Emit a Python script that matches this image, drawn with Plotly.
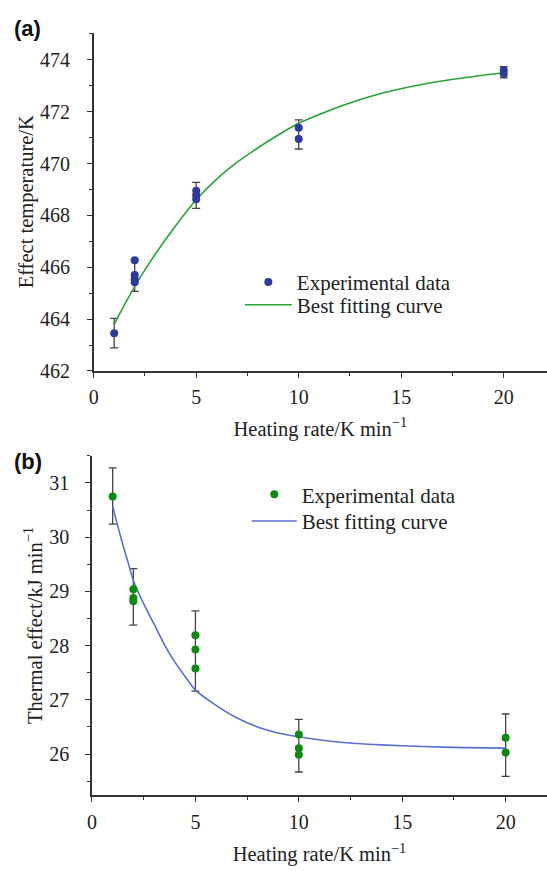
import plotly.graph_objects as go

# ---- panel (a): effect temperature vs heating rate ----
a_pts_x = [1, 2, 2, 2, 2, 5, 5, 5, 10, 10, 20, 20]
a_pts_y = [463.45, 466.27, 465.70, 465.55, 465.42, 468.95, 468.78, 468.62,
           471.38, 470.95, 473.60, 473.45]
a_err_x = [1, 2, 5, 10, 20]
a_err_mean = [463.46, 465.68, 468.77, 471.12, 473.52]
a_err_sd = [0.57, 0.61, 0.50, 0.56, 0.22]
a_fit_x = [1, 1.5, 2, 2.5, 3, 4, 5, 6, 7, 8, 9, 10, 12, 14, 16, 18, 20]
a_fit_y = [463.8, 464.55, 465.25, 465.9, 466.5, 467.6, 468.6, 469.4, 470.05,
           470.6, 471.1, 471.55, 472.2, 472.7, 473.05, 473.3, 473.5]

# ---- panel (b): thermal effect vs heating rate ----
b_pts_x = [1, 2, 2, 2, 5, 5, 5, 10, 10, 10, 20, 20]
b_pts_y = [30.75, 29.04, 28.88, 28.82, 28.19, 27.93, 27.58,
           26.36, 26.11, 25.99, 26.30, 26.03]
b_err_x = [1, 2, 5, 10, 20]
b_err_mean = [30.76, 28.90, 27.90, 26.155, 26.165]
b_err_sd = [0.52, 0.52, 0.74, 0.485, 0.575]
b_fit_x = [1, 1.25, 1.5, 1.75, 2, 2.5, 3, 3.5, 4, 4.5, 5, 6, 7, 8, 9, 10,
           12, 14, 16, 18, 20]
b_fit_y = [30.57, 30.2, 29.85, 29.53, 29.2, 28.77, 28.4, 28.02, 27.7, 27.43,
           27.18, 26.9, 26.67, 26.5, 26.39, 26.32, 26.22, 26.17, 26.14,
           26.12, 26.11]

x_ticks = [0, 5, 10, 15, 20]

SERIF = "Liberation Serif, Times New Roman, Times, serif"
AX = "#333333"
ERR = "#444444"
TXT = "#222222"

fig = go.Figure()

# panel (a)
fig.add_trace(go.Scatter(
    x=a_err_x, y=a_err_mean, mode="markers",
    marker=dict(size=1, opacity=0),
    error_y=dict(type="data", array=a_err_sd, visible=True,
                 color=ERR, thickness=1.3, width=4),
    showlegend=False, hoverinfo="skip", xaxis="x", yaxis="y"))
fig.add_trace(go.Scatter(
    x=a_fit_x, y=a_fit_y, mode="lines", name="Best fitting curve",
    line=dict(color="#2ca23a", width=1.6, shape="spline", smoothing=0.6),
    xaxis="x", yaxis="y", legend="legend3"))
fig.add_trace(go.Scatter(
    x=a_pts_x, y=a_pts_y, mode="markers", name="Experimental data",
    marker=dict(size=8, color="#2b3a9c"),
    xaxis="x", yaxis="y", legend="legend"))

# panel (b)
fig.add_trace(go.Scatter(
    x=b_err_x, y=b_err_mean, mode="markers",
    marker=dict(size=1, opacity=0),
    error_y=dict(type="data", array=b_err_sd, visible=True,
                 color=ERR, thickness=1.3, width=4),
    showlegend=False, hoverinfo="skip", xaxis="x2", yaxis="y2"))
fig.add_trace(go.Scatter(
    x=b_fit_x, y=b_fit_y, mode="lines", name="Best fitting curve",
    line=dict(color="#5b6fce", width=1.6, shape="spline", smoothing=0.6),
    xaxis="x2", yaxis="y2", legend="legend4"))
fig.add_trace(go.Scatter(
    x=b_pts_x, y=b_pts_y, mode="markers", name="Experimental data",
    marker=dict(size=8, color="#0a8a12"),
    xaxis="x2", yaxis="y2", legend="legend2"))

W, H = 547, 871


def px_x(p):
    return p / W


def px_y(p):
    return 1 - p / H


tick_font = dict(family=SERIF, size=20, color=TXT)
title_font = dict(family=SERIF, size=20.5, color=TXT)


def axis(**kw):
    base = dict(
        showline=True, linecolor=AX, linewidth=1.5, mirror=False,
        showgrid=False, zeroline=False,
        ticks="outside", ticklen=5, tickwidth=1.3, tickcolor=AX,
        tickfont=tick_font,
    )
    base.update(kw)
    return base


def minor(step, start):
    return dict(dtick=step, tick0=start, ticks="outside", ticklen=3,
                tickwidth=1.2, tickcolor=AX)


def legend_box(x, y, width):
    return dict(x=px_x(x), y=px_y(y), xanchor="left", yanchor="middle",
                xref="paper", yref="paper",
                bgcolor="rgba(0,0,0,0)", borderwidth=0, itemwidth=width,
                font=dict(family=SERIF, size=21, color=TXT))


fig.update_layout(
    width=W, height=H,
    margin=dict(l=0, r=0, t=0, b=0),
    font=dict(family=SERIF, size=20, color=TXT),
    paper_bgcolor="white", plot_bgcolor="white",
    xaxis=axis(domain=[px_x(89.5), 1], anchor="y",
               range=[0, 22.11], tickvals=x_ticks, ticklabelstandoff=2,
               minor=minor(2.5, 0),
               title=dict(text="Heating rate/K min<sup>−1</sup>",
                          font=title_font, standoff=15)),
    yaxis=axis(domain=[px_y(375.7), px_y(33)], anchor="x",
               range=[462, 475.05], dtick=2, tick0=462,
               ticklabelstandoff=13,
               minor=minor(1, 462),
               title=dict(text="Effect temperature/K",
                          font=title_font, standoff=1)),
    xaxis2=axis(domain=[px_x(87.8), 1], anchor="y2",
                range=[0, 22.0], tickvals=x_ticks, ticklabelstandoff=3,
                minor=minor(2.5, 0),
                title=dict(text="Heating rate/K min<sup>−1</sup>",
                           font=title_font, standoff=15)),
    yaxis2=axis(domain=[px_y(805.5), px_y(461.7)], anchor="x2",
                range=[25.24, 31.5], dtick=1, tick0=26,
                ticklabelstandoff=12,
                minor=minor(0.5, 25.5),
                title=dict(text="Thermal effect/kJ min<sup>−1</sup>",
                           font=title_font, standoff=1)),
    legend=legend_box(237, 286, 47),
    legend3=legend_box(237, 309, 47),
    legend2=legend_box(244, 501, 45),
    legend4=legend_box(244, 528, 45),
    annotations=[
        dict(text="<b>(a)</b>", x=px_x(7), y=px_y(29), xref="paper",
             yref="paper", xanchor="left", yanchor="middle", showarrow=False,
             font=dict(family="Liberation Sans, Arial, sans-serif", size=22,
                       color="#111111")),
        dict(text="<b>(b)</b>", x=px_x(7), y=px_y(467), xref="paper",
             yref="paper", xanchor="left", yanchor="middle", showarrow=False,
             font=dict(family="Liberation Sans, Arial, sans-serif", size=22,
                       color="#111111")),
    ],
)

fig.write_html("out.html")
